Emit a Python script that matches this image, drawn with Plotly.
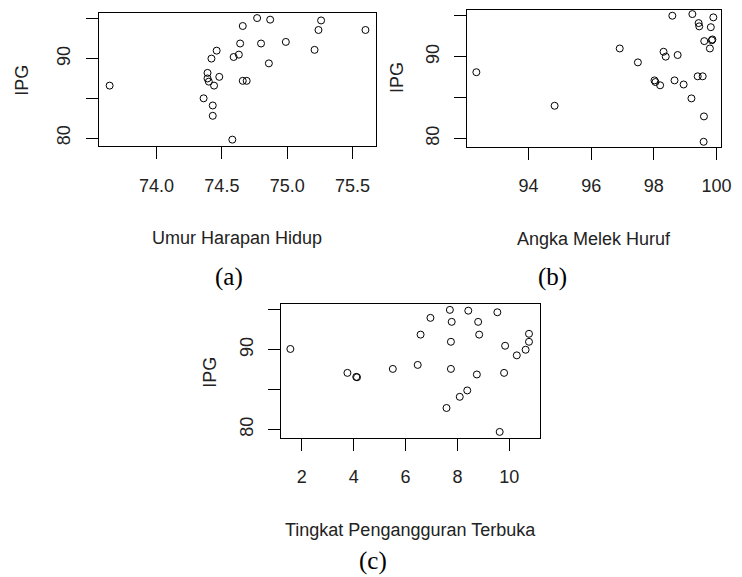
import plotly.graph_objects as go

# Panel (a): Umur Harapan Hidup vs IPG
uhh = [73.64, 74.36, 74.39, 74.39, 74.40, 74.42, 74.43, 74.43, 74.44, 74.46, 74.48, 74.58, 74.59, 74.63,
       74.64, 74.66, 74.66, 74.69, 74.77, 74.80, 74.86, 74.87, 74.99, 75.21, 75.24, 75.26, 75.60]
ipg_a = [86.6, 85.0, 88.2, 87.5, 87.1, 90.0, 84.1, 82.8, 86.6, 91.0, 87.7, 79.8, 90.2, 90.5,
         91.9, 94.1, 87.2, 87.2, 95.1, 91.9, 89.4, 94.9, 92.1, 91.1, 93.6, 94.8, 93.6]

# Panel (b): Angka Melek Huruf vs IPG
amh = [92.33, 94.83, 96.91, 97.49, 98.02, 98.05, 98.20, 98.31, 98.38, 98.59, 98.66, 98.76, 98.95, 99.20,
       99.23, 99.43, 99.45, 99.40, 99.56, 99.60, 99.59, 99.61, 99.79, 99.82, 99.85, 99.87, 99.90]
ipg_b = [88.1, 84.0, 91.0, 89.3, 87.1, 86.9, 86.5, 90.6, 90.0, 95.0, 87.1, 90.2, 86.6, 84.9,
         95.2, 94.1, 93.7, 87.6, 87.6, 82.7, 79.6, 91.9, 91.0, 93.6, 92.0, 92.1, 94.8]

# Panel (c): Tingkat Pengangguran Terbuka vs IPG
tpt = [1.56, 3.76, 4.10, 4.13, 5.51, 6.47, 6.58, 6.96, 7.58, 7.71, 7.78, 7.75, 7.75, 8.09,
       8.38, 8.42, 8.75, 8.80, 8.84, 9.54, 9.63, 9.80, 9.84, 10.29, 10.63, 10.76, 10.76]
ipg_c = [90.1, 87.1, 86.6, 86.55, 87.6, 88.1, 91.9, 94.0, 82.7, 95.0, 93.5, 91.0, 87.6, 84.1,
         84.9, 94.9, 86.9, 93.5, 91.9, 94.7, 79.7, 87.1, 90.5, 89.3, 90.0, 91.0, 92.0]

x_ticks_a = [74.0, 74.5, 75.0, 75.5]
x_ticklabels_a = ["74.0", "74.5", "75.0", "75.5"]
x_ticks_b = [94, 96, 98, 100]
x_ticks_c = [2, 4, 6, 8, 10]
y_ticks = [80, 85, 90, 95]
y_ticklabels = ["80", "", "90", ""]

x_titles = ["Umur Harapan Hidup", "Angka Melek Huruf", "Tingkat Pengangguran Terbuka"]
y_title = "IPG"
captions = ["(a)", "(b)", "(c)"]

W, H = 742, 577
SANS = "Liberation Sans, Arial, sans-serif"
SERIF = "Liberation Serif, Times New Roman, serif"

def px(x):
    return x / W

def py(y):
    return 1 - y / H

fig = go.Figure()
marker = dict(symbol="circle-open", size=7, color="black", line=dict(width=1, color="black"))
fig.add_trace(go.Scatter(x=uhh, y=ipg_a, mode="markers", marker=marker, xaxis="x", yaxis="y", showlegend=False))
fig.add_trace(go.Scatter(x=amh, y=ipg_b, mode="markers", marker=marker, xaxis="x2", yaxis="y2", showlegend=False))
fig.add_trace(go.Scatter(x=tpt, y=ipg_c, mode="markers", marker=marker, xaxis="x3", yaxis="y3", showlegend=False))

tickfont = dict(family=SANS, size=18, color="#222")
common = dict(showline=True, mirror=True, linecolor="black", linewidth=1, ticks="outside", ticklen=12,
              tickcolor="black", tickwidth=1, showgrid=False, zeroline=False, tickfont=tickfont,
              fixedrange=True, ticklabeloverflow="allow")

boxes = [
    (100, 381.7, 13.3, 146.0),
    (474.3, 731.7, 10.0, 146.7),
    (285.0, 548.0, 304.3, 437.5),
]
xranges = [[73.555, 75.681], [92.04, 100.14], [1.19, 11.18]]
yrange = [79.0, 95.7]
xtickcfg = [
    dict(tickvals=x_ticks_a, ticktext=x_ticklabels_a),
    dict(tickvals=x_ticks_b),
    dict(tickvals=x_ticks_c),
]

layout = dict(width=W, height=H, margin=dict(l=0, r=0, t=0, b=0), paper_bgcolor="white",
              plot_bgcolor="white", showlegend=False)
for i, (x0, x1, y0, y1) in enumerate(boxes):
    sfx = "" if i == 0 else str(i + 1)
    layout["xaxis" + sfx] = dict(domain=[px(x0), px(x1)], range=xranges[i], anchor="y" + sfx,
                                 ticklabelstandoff=11, **xtickcfg[i], **common)
    layout["yaxis" + sfx] = dict(domain=[py(y1), py(y0)], range=yrange, anchor="x" + sfx,
                                 tickvals=y_ticks, ticktext=y_ticklabels, tickangle=-90,
                                 ticklabelstandoff=8, **common)
fig.update_layout(**layout)

title_font = dict(family=SANS, size=18, color="#222")
cap_font = dict(family=SERIF, size=25, color="black")
ylab_pos = [(22, 80), (403, 78), (213, 372)]
xlab_pos = [(240.8, 238), (603, 239), (416.5, 530)]
cap_pos = [(232, 277), (561, 277), (379, 561)]
for i in range(3):
    fig.add_annotation(x=px(ylab_pos[i][0]), y=py(ylab_pos[i][1]), xref="paper", yref="paper",
                       text=y_title, textangle=-90, showarrow=False, font=title_font,
                       xanchor="center", yanchor="middle")
    fig.add_annotation(x=px(xlab_pos[i][0]), y=py(xlab_pos[i][1]), xref="paper", yref="paper",
                       text=x_titles[i], showarrow=False, font=title_font,
                       xanchor="center", yanchor="middle")
    fig.add_annotation(x=px(cap_pos[i][0]), y=py(cap_pos[i][1]), xref="paper", yref="paper",
                       text=captions[i], showarrow=False, font=cap_font,
                       xanchor="center", yanchor="middle")

fig.write_html("out.html", config={"displayModeBar": False},
               post_script="document.body.style.margin='0';document.body.style.overflow='hidden';")
